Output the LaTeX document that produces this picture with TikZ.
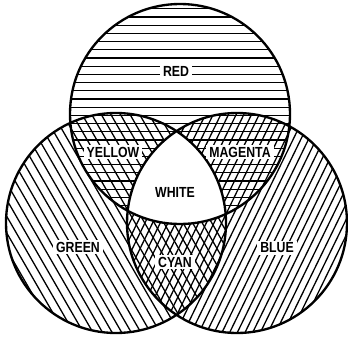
\documentclass[tikz,border=0pt]{standalone}
\usepackage{fontspec}
\newfontfamily\lblfont{Liberation Sans}

\begin{document}
\begin{tikzpicture}[x=0.03cm, y=-0.03cm,
  hatch/.style={line width=1.1pt},
  outline/.style={line width=2pt},
  lbl/.style={font=\lblfont\bfseries\fontsize{12.5}{12.5}\selectfont, fill=white,
    inner xsep=3pt, inner ysep=1.5pt, xscale=0.84}]
  \useasboundingbox (0,0) rectangle (348,339);
  % Circle centres
  \coordinate (T) at (180,114);
  \coordinate (L) at (116,223);
  \coordinate (R) at (237,223);
  \def\rad{110}
  % Red: horizontal lines
  \begin{scope}
    \clip (T) circle (\rad);
    \foreach \k in {0,...,27}
      \draw[hatch] (60,{0.6+8.2*\k}) -- (300,{0.6+8.2*\k});
  \end{scope}
  % Green: lines falling to the right
  \begin{scope}
    \clip (L) circle (\rad);
    \begin{scope}[shift={(L)}, rotate=-60]
      \foreach \k in {-14,...,14}
        \draw[hatch] (-120,{8.3*\k}) -- (120,{8.3*\k});
    \end{scope}
  \end{scope}
  % Blue: lines rising to the right
  \begin{scope}
    \clip (R) circle (\rad);
    \begin{scope}[shift={(R)}, rotate=64]
      \foreach \k in {-17,...,17}
        \draw[hatch] (-120,{6.9*\k}) -- (120,{6.9*\k});
    \end{scope}
  \end{scope}
  % White: no hatching where all three meet
  \begin{scope}
    \clip (T) circle (\rad);
    \clip (L) circle (\rad);
    \fill[white] (R) circle (\rad);
  \end{scope}
  % Outlines
  \draw[outline] (T) circle (\rad) (L) circle (\rad) (R) circle (\rad);
  % Labels
  \node[lbl] (red) at (176,71) {RED};
  \node[lbl] (yellow) at (113,152) {YELLOW};
  \node[lbl] (magenta) at (240,152) {MAGENTA};
  \node[lbl] (white) at (175,192) {WHITE};
  \node[lbl] (green) at (78,247) {GREEN};
  \node[lbl] (cyan) at (175,262) {CYAN};
  \node[lbl] (blue) at (277,248) {BLUE};
\end{tikzpicture}
\end{document}
